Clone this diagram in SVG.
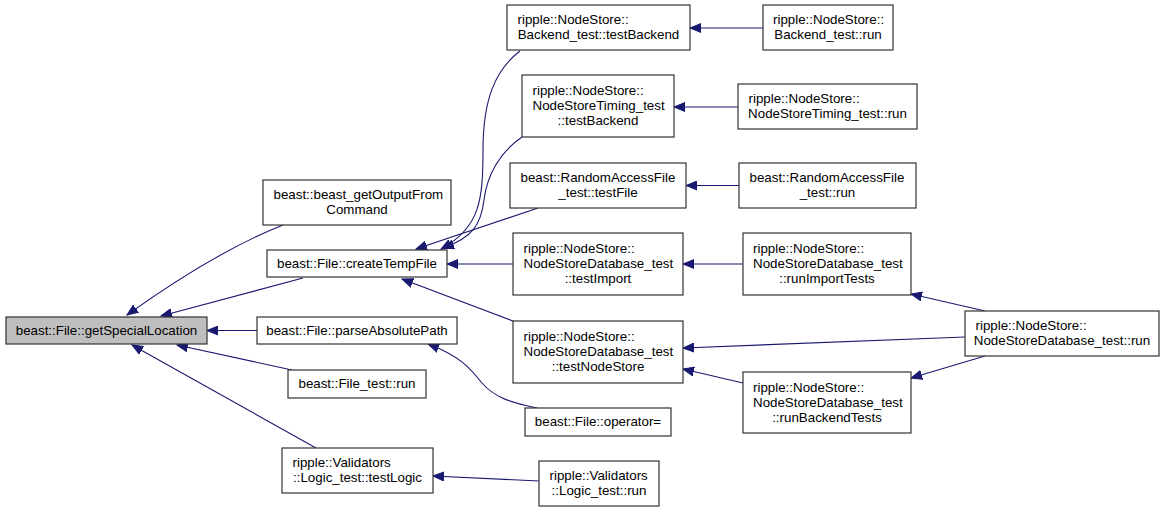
<svg xmlns="http://www.w3.org/2000/svg" width="1165" height="512" viewBox="0 0 1165 512">
<style>
.n rect{fill:#ffffff;stroke:#333333;stroke-width:1.2}
.n.hl rect{fill:#bfbfbf}
.n text{font-family:"Liberation Sans",Arial,sans-serif;font-size:13.33px;fill:#000000}
.n text.c{text-anchor:middle}
.e path{fill:none;stroke:#191970;stroke-width:1.1}
</style>
<defs>
<marker id="ah" markerUnits="userSpaceOnUse" markerWidth="12" markerHeight="10" viewBox="0 0 12 10" refX="11" refY="5" orient="auto">
<path d="M0,0.5 L11,5 L0,9.5 z" fill="#191970" stroke="#191970" stroke-width="1"/>
</marker>
</defs>
<rect x="0" y="0" width="1165" height="512" fill="#ffffff"/>
<g id="connectors" class="e">
<path marker-end="url(#ah)" d="M283,225 C245,240 190,270 127,315"/>
<path marker-end="url(#ah)" d="M303,278 L161,316"/>
<path marker-end="url(#ah)" d="M257,330.5 L207,330.5"/>
<path marker-end="url(#ah)" d="M292,370 L177,345"/>
<path marker-end="url(#ah)" d="M316,448 L132,345"/>
<path marker-end="url(#ah)" d="M520,51 C495,70 483,100 483,150 C483,200 480,228 441,249"/>
<path marker-end="url(#ah)" d="M522,137 C500,152 487,175 484,200 C481,225 472,238 443,248"/>
<path marker-end="url(#ah)" d="M538,208 L416,249"/>
<path marker-end="url(#ah)" d="M513,264 L447,264"/>
<path marker-end="url(#ah)" d="M513,321 L402,279"/>
<path marker-end="url(#ah)" d="M537,408 C510,402 495,398 482,383 C470,368 460,356 428,344"/>
<path marker-end="url(#ah)" d="M539,481 L433,476"/>
<path marker-end="url(#ah)" d="M763,28 L690,28"/>
<path marker-end="url(#ah)" d="M738,107 L674,107"/>
<path marker-end="url(#ah)" d="M739,185.5 L686,185.5"/>
<path marker-end="url(#ah)" d="M743,264 L683,264"/>
<path marker-end="url(#ah)" d="M965,337 L683,348"/>
<path marker-end="url(#ah)" d="M743,383 L683,369"/>
<path marker-end="url(#ah)" d="M985,311 L911,294"/>
<path marker-end="url(#ah)" d="M985,356 L911,378"/>
</g>
<g id="n0" class="n hl"><rect x="6" y="317" width="201" height="27"/><text class="c" x="106.5" y="334.5">beast::File::getSpecialLocation</text></g>
<g id="n1" class="n"><rect x="263" y="180" width="188" height="45"/><text x="273.5" y="199">beast::beast_getOutputFrom</text><text class="c" x="357" y="214">Command</text></g>
<g id="n2" class="n"><rect x="267" y="250" width="180" height="27"/><text class="c" x="357" y="267.5">beast::File::createTempFile</text></g>
<g id="n3" class="n"><rect x="257" y="317" width="200" height="27"/><text class="c" x="357" y="334.5">beast::File::parseAbsolutePath</text></g>
<g id="n4" class="n"><rect x="288" y="370" width="138" height="28"/><text class="c" x="357" y="388">beast::File_test::run</text></g>
<g id="n5" class="n"><rect x="282" y="448" width="151" height="45"/><text x="292.5" y="467">ripple::Validators</text><text class="c" x="357.5" y="482">::Logic_test::testLogic</text></g>
<g id="n6" class="n"><rect x="507" y="5" width="183" height="45"/><text x="517.5" y="24">ripple::NodeStore::</text><text class="c" x="598.5" y="39">Backend_test::testBackend</text></g>
<g id="n7" class="n"><rect x="522" y="75" width="152" height="62"/><text x="532.5" y="95">ripple::NodeStore::</text><text x="532.5" y="110">NodeStoreTiming_test</text><text class="c" x="598" y="125">::testBackend</text></g>
<g id="n8" class="n"><rect x="510" y="163" width="176" height="45"/><text x="520.5" y="182">beast::RandomAccessFile</text><text class="c" x="598" y="197">_test::testFile</text></g>
<g id="n9" class="n"><rect x="513" y="233" width="170" height="62"/><text x="523.5" y="253">ripple::NodeStore::</text><text x="523.5" y="268">NodeStoreDatabase_test</text><text class="c" x="598" y="283">::testImport</text></g>
<g id="n10" class="n"><rect x="513" y="321" width="170" height="62"/><text x="523.5" y="341">ripple::NodeStore::</text><text x="523.5" y="356">NodeStoreDatabase_test</text><text class="c" x="598" y="371">::testNodeStore</text></g>
<g id="n11" class="n"><rect x="525" y="408" width="146" height="28"/><text class="c" x="598" y="426">beast::File::operator=</text></g>
<g id="n12" class="n"><rect x="539" y="461" width="120" height="45"/><text x="549.5" y="480">ripple::Validators</text><text class="c" x="599" y="495">::Logic_test::run</text></g>
<g id="n13" class="n"><rect x="763" y="5" width="130" height="45"/><text x="773" y="24">ripple::NodeStore::</text><text class="c" x="828" y="39">Backend_test::run</text></g>
<g id="n14" class="n"><rect x="738" y="84" width="179" height="45"/><text x="748.5" y="103">ripple::NodeStore::</text><text class="c" x="827.5" y="118">NodeStoreTiming_test::run</text></g>
<g id="n15" class="n"><rect x="739" y="163" width="177" height="45"/><text x="749.5" y="182">beast::RandomAccessFile</text><text class="c" x="827.5" y="197">_test::run</text></g>
<g id="n16" class="n"><rect x="743" y="233" width="168" height="62"/><text x="753" y="253">ripple::NodeStore::</text><text x="753" y="268">NodeStoreDatabase_test</text><text class="c" x="827" y="283">::runImportTests</text></g>
<g id="n17" class="n"><rect x="743" y="372" width="168" height="61"/><text x="753" y="391.5">ripple::NodeStore::</text><text x="753" y="406.5">NodeStoreDatabase_test</text><text class="c" x="827" y="421.5">::runBackendTests</text></g>
<g id="n18" class="n"><rect x="965" y="311" width="194" height="45"/><text x="975.5" y="330">ripple::NodeStore::</text><text class="c" x="1062" y="345">NodeStoreDatabase_test::run</text></g>
</svg>
